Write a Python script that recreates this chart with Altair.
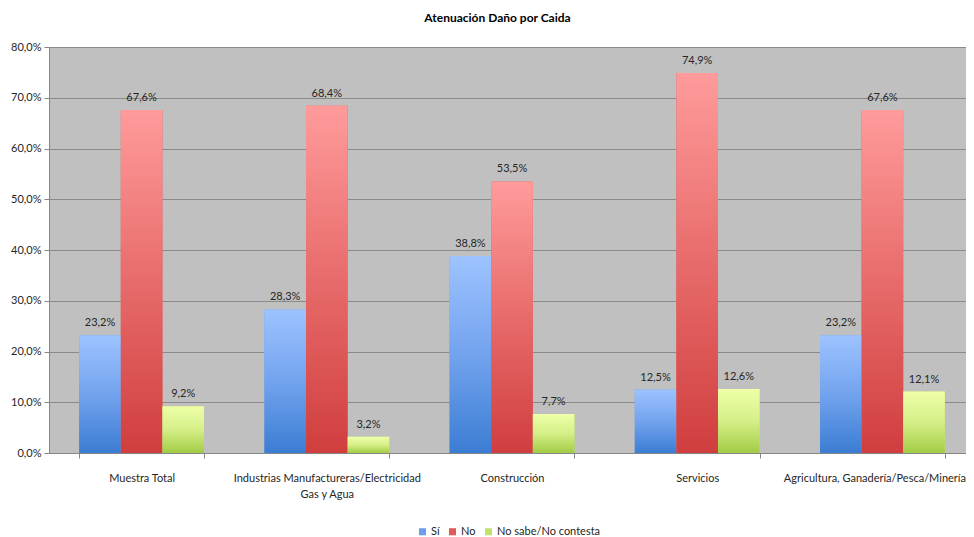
import altair as alt
import pandas as pd

categorias = [
    "Muestra Total",
    "Industrias Manufactureras/Electricidad Gas y Agua",
    "Construcción",
    "Servicios",
    "Agricultura, Ganadería/Pesca/Minería",
]
series = ["Sí", "No", "No sabe/No contesta"]
si = [23.2, 28.3, 38.8, 12.5, 23.2]
no = [67.6, 68.4, 53.5, 74.9, 67.6]
nsnc = [9.2, 3.2, 7.7, 12.6, 12.1]
y_ticks = [0, 0.1, 0.2, 0.3, 0.4, 0.5, 0.6, 0.7, 0.8]

legend_colors = ["#6F9FEA", "#E05A5A", "#C2E36A"]
gradients = {
    "Sí": ["#9DC3FF", "#73A3EE", "#3B7DD3"],
    "No": ["#FF9B9B", "#E86B6B", "#D03E3E"],
    "No sabe/No contesta": ["#EEFFA8", "#D5EF88", "#A2CC45"],
}

rows = []
for s, vals in zip(series, [si, no, nsnc]):
    for c, v in zip(categorias, vals):
        rows.append({
            "categoria": c,
            "serie": s,
            "valor": v / 100,
            "etiqueta": f"{v:.1f}%".replace(".", ","),
        })
df = pd.DataFrame(rows)

FONT = "Lato"
label_expr = ("datum.value == 'Industrias Manufactureras/Electricidad Gas y Agua' ? "
              "['Industrias Manufactureras/Electricidad', 'Gas y Agua'] : datum.value")

x_enc = alt.X(
    "categoria:N",
    sort=categorias,
    scale=alt.Scale(paddingInner=0.326, paddingOuter=0.163, range=[0, 926]),
    axis=alt.Axis(
        title=None, labelAngle=0, labelExpr=label_expr, labelLimit=300,
        tickBand="extent", ticks=True, tickSize=5, tickColor="#868686",
        domainColor="#868686", labelPadding=14, labelFontSize=11,
        labelColor="#262626", labelFont=FONT, grid=False, labelLineHeight=16,
        labelBaseline="top",
        labelOffset={"expr": "datum.value == 'Agricultura, Ganadería/Pesca/Minería' ? -8 : 0"},
    ),
)
xo_enc = alt.XOffset(
    "serie:N", sort=series,
    scale=alt.Scale(domain=series, paddingInner=0, paddingOuter=0),
)
y_enc = alt.Y(
    "valor:Q",
    scale=alt.Scale(domain=[0, 0.8], nice=False),
    axis=alt.Axis(
        title=None, values=y_ticks,
        labelExpr="replace(format(datum.value, '.1%'), '.', ',')",
        grid=True, gridColor="#8A8A8A", gridWidth=1,
        domainColor="#868686", tickColor="#868686", tickSize=5,
        labelPadding=3, labelFontSize=11, labelColor="#262626", labelFont=FONT,
    ),
)

base = alt.Chart(df)

legend_layer = base.mark_bar().encode(
    x=x_enc, xOffset=xo_enc, y=y_enc,
    color=alt.Color(
        "serie:N", sort=series,
        scale=alt.Scale(domain=series, range=legend_colors),
        legend=alt.Legend(
            title=None, orient="none", direction="horizontal",
            legendX=368, legendY=479,
            symbolType="square", symbolSize=50, symbolStrokeWidth=0,
            labelFontSize=11, labelFont=FONT, labelColor="#262626",
            columnPadding=7, labelOffset=3,
        ),
    ),
)

layers = [legend_layer]
for s in series:
    stops = gradients[s]
    layers.append(
        base.transform_filter(alt.datum.serie == s).mark_bar(
            color=alt.Gradient(
                gradient="linear", x1=0, x2=0, y1=0, y2=1,
                stops=[
                    alt.GradientStop(color=stops[0], offset=0),
                    alt.GradientStop(color=stops[1], offset=0.5),
                    alt.GradientStop(color=stops[2], offset=1),
                ],
            )
        ).encode(x=x_enc, xOffset=xo_enc, y=y_enc)
    )

text_layer = base.mark_text(
    baseline="bottom", dy=-7, fontSize=11, font=FONT, color="#262626"
).encode(x=x_enc, xOffset=xo_enc, y=y_enc, text="etiqueta:N")
layers.append(text_layer)

chart = alt.layer(*layers).properties(
    width=917,
    height=406,
    autosize=alt.AutoSizeParams(type="none"),
    title=alt.Title(
        "Atenuación Daño por Caida", fontSize=12, font=FONT, fontWeight="bold",
        color="#000000", offset=16, dx=-10,
    ),
    padding={"left": 41, "top": 39, "right": 0, "bottom": 84},
).configure_view(
    fill="#C0C0C0", stroke=None
)

chart.save("out.html", embed_options={"renderer": "svg", "actions": False})
